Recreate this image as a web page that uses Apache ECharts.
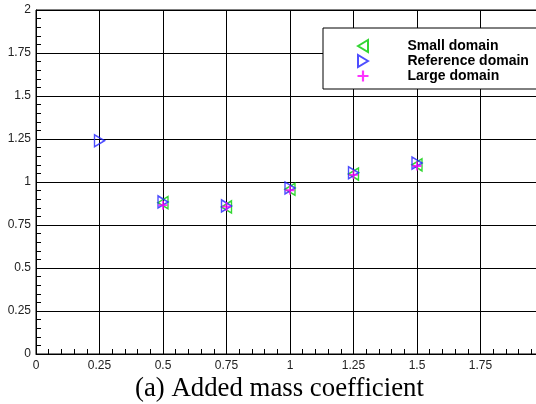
<!DOCTYPE html>
<html>
<head>
<meta charset="utf-8">
<script src="https://cdn.jsdelivr.net/npm/echarts@6/dist/echarts.min.js"></script>
<style>
  html, body { margin: 0; padding: 0; background: #fff; }
  #chart { width: 536px; height: 404px; }
</style>
</head>
<body>
<div id="chart"></div>
<script>
// Added mass coefficient versus frequency for three domain sizes
const xSmall = [0.5, 0.75, 1.0, 1.25, 1.5];
const ySmall = [0.88, 0.855, 0.958, 1.046, 1.10];

const xReference = [0.25, 0.5, 0.75, 1.0, 1.25, 1.5];
const yReference = [1.24, 0.884, 0.861, 0.965, 1.054, 1.11];

const xLarge = [0.5, 0.75, 1.0, 1.25, 1.5];
const yLarge = [0.865, 0.857, 0.952, 1.042, 1.093];

const seriesNames = ['Small domain', 'Reference domain', 'Large domain'];
const titleText = '(a) Added mass coefficient';

const pairs = (xs, ys) => xs.map((x, i) => [x, ys[i]]);

// Marker outlines: left- and right-pointing triangles, and a plus sign
const TRI_LEFT = 'path://M0,6 L10,0 L10,12 Z';
const TRI_RIGHT = 'path://M10,6 L0,0 L0,12 Z';
const PLUS = 'path://M4,0 L6,0 L6,4 L10,4 L10,6 L6,6 L6,10 L4,10 L4,6 L0,6 L0,4 L4,4 Z';

const chart = echarts.init(document.getElementById('chart'), null, { renderer: 'canvas' });

const labelStyle = { color: '#222', fontFamily: 'Liberation Sans, Arial', fontSize: 12 };

const axisCommon = {
  min: 0,
  max: 2,
  interval: 0.25,
  axisLine: { show: true, onZero: false, lineStyle: { color: '#000', width: 1 } },
  axisTick: { show: true, inside: true, length: 8, lineStyle: { color: '#000' } },
  minorTick: { show: true, splitNumber: 5, length: 5, lineStyle: { color: '#000' } },
  splitLine: { show: true, lineStyle: { color: '#000', width: 1 } }
};

chart.setOption({
  animation: false,
  backgroundColor: '#fff',
  grid: {
    left: 36, width: 508, top: 10, height: 344,
    outerBoundsMode: 'none',
    containLabel: false,
    show: true, borderColor: '#000', borderWidth: 1
  },
  xAxis: Object.assign({ type: 'value' }, axisCommon, {
    axisLabel: Object.assign({}, labelStyle, { margin: 6 })
  }),
  yAxis: Object.assign({ type: 'value' }, axisCommon, {
    axisLabel: Object.assign({}, labelStyle, { margin: 5 })
  }),
  title: {
    text: titleText,
    left: 130,
    top: 370,
    textStyle: { fontFamily: 'Liberation Serif, Times New Roman', fontSize: 26.8, fontWeight: 'normal', color: '#000' }
  },
  legend: {
    data: [
      { name: seriesNames[0], icon: TRI_LEFT },
      { name: seriesNames[1], icon: TRI_RIGHT },
      { name: seriesNames[2], icon: PLUS }
    ],
    orient: 'vertical',
    left: 323,
    top: 28,
    padding: [11, 60, 6, 34],
    itemGap: 1,
    itemWidth: 11,
    itemHeight: 12,
    backgroundColor: '#fff',
    borderColor: '#000',
    borderWidth: 1,
    textStyle: {
      fontFamily: 'Liberation Sans, Arial',
      fontWeight: 'bold',
      fontSize: 14,
      lineHeight: 14,
      color: '#000',
      padding: [0, 0, 0, 34]
    }
  },
  series: [
    {
      name: seriesNames[0],
      type: 'scatter',
      data: pairs(xSmall, ySmall),
      symbol: TRI_LEFT,
      symbolSize: [10, 12],
      itemStyle: { color: 'rgba(0,0,0,0)', borderColor: '#00cc00', borderWidth: 1.5 },
      z: 3
    },
    {
      name: seriesNames[1],
      type: 'scatter',
      data: pairs(xReference, yReference),
      symbol: TRI_RIGHT,
      symbolSize: [10, 12],
      itemStyle: { color: 'rgba(0,0,0,0)', borderColor: '#2020ff', borderWidth: 1.5 },
      z: 4
    },
    {
      name: seriesNames[2],
      type: 'scatter',
      data: pairs(xLarge, yLarge),
      symbol: PLUS,
      symbolSize: 9,
      itemStyle: { color: '#ff00ff' },
      z: 5
    }
  ]
});
</script>
</body>
</html>
